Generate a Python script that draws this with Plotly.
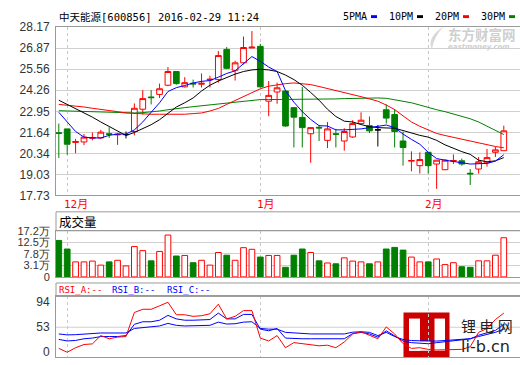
import plotly.graph_objects as go

# ---------------- data ----------------
stock_title = "中天能源[600856] 2016-02-29 11:24"
month_labels = ["12月", "1月", "2月"]
month_index = [1, 24, 44]

price_ticks = [17.73, 19.03, 20.34, 21.64, 22.95, 24.26, 25.56, 26.87, 28.17]
price_tick_text = ["17.73", "19.03", "20.34", "21.64", "22.95", "24.26", "25.56", "26.87", "28.17"]

vol_max = 17.2
vol_tick_text = ["0", "3.1万", "7.8万", "12.5万", "17.2万"]
rsi_tick_vals = [0, 47, 94]
rsi_tick_text = ["0", "53", "94"]

opens = [21.62, 21.86, 21.02, 21.05, 21.28, 21.30, 21.56, 21.49, 21.51, 21.70,
         23.08, 23.84, 24.00, 24.57, 25.42, 24.47, 24.69, 24.63, 24.90, 24.92,
         26.79, 25.50, 25.96, 26.88, 26.98, 23.58, 24.15, 24.21, 23.18, 22.57,
         21.56, 21.96, 21.15, 21.56, 21.11, 21.36, 22.19, 22.06, 21.80, 23.05,
         22.75, 21.11, 19.86, 19.58, 20.41, 19.68, 19.33, 19.86, 19.88, 19.11,
         19.37, 19.76, 20.41, 20.51]
highs = [22.19, 21.86, 21.24, 21.54, 21.64, 21.80, 21.96, 21.60, 21.70, 23.44,
         24.27, 24.27, 24.67, 25.70, 25.45, 25.07, 24.92, 25.30, 25.16, 26.69,
         26.94, 26.09, 27.59, 27.93, 27.14, 24.83, 24.73, 24.25, 23.20, 24.47,
         21.94, 22.10, 22.29, 21.86, 21.90, 22.40, 22.89, 22.63, 22.10, 23.38,
         23.08, 21.70, 20.47, 20.41, 20.43, 19.92, 19.98, 20.28, 20.02, 19.37,
         20.12, 20.62, 20.75, 22.06]
lows = [20.06, 20.26, 20.35, 20.85, 21.15, 21.24, 21.30, 20.87, 21.27, 21.46,
        22.75, 23.38, 23.78, 24.51, 24.60, 24.43, 24.43, 24.43, 24.43, 24.73,
        25.56, 24.86, 25.86, 26.88, 24.43, 22.65, 23.42, 22.00, 20.71, 20.71,
        19.76, 21.11, 20.67, 20.71, 20.51, 21.30, 22.17, 21.60, 20.77, 22.19,
        20.71, 19.58, 19.23, 19.09, 19.09, 18.14, 19.30, 19.68, 19.58, 18.38,
        19.09, 19.52, 20.12, 20.51]
closes = [21.58, 20.91, 21.08, 21.35, 21.32, 21.66, 21.52, 21.53, 21.51, 23.14,
          23.74, 23.80, 24.35, 25.42, 24.67, 24.73, 24.65, 24.69, 24.94, 26.41,
          25.62, 25.96, 26.91, 26.93, 24.47, 23.94, 24.41, 22.04, 22.59, 21.94,
          21.94, 21.92, 21.86, 21.52, 21.70, 22.19, 22.40, 21.74, 21.80, 22.53,
          21.70, 20.71, 19.90, 19.96, 19.58, 19.92, 19.92, 19.90, 19.68, 19.07,
          19.82, 20.08, 20.56, 21.74]

# volume in 万 shares
volume = [13.6, 10.4, 5.6, 5.6, 5.9, 4.4, 5.6, 6.2, 4.1, 11.3,
          9.8, 6.0, 9.5, 15.6, 7.8, 8.0, 5.3, 6.2, 4.4, 9.1,
          8.1, 6.2, 10.9, 10.3, 7.4, 8.0, 8.0, 3.6, 8.1, 10.4,
          9.1, 6.0, 5.2, 4.9, 7.1, 5.9, 5.6, 4.9, 5.6, 10.4,
          11.0, 10.0, 7.4, 5.6, 5.6, 6.7, 4.6, 5.3, 3.8, 3.6,
          6.0, 6.0, 8.1, 14.6]

ma5 = [22.89, 22.29, 21.70, 21.35, 21.30, 21.30, 21.46, 21.54, 21.54, 21.80,
       22.29, 22.89, 23.48, 24.18, 24.42, 24.55, 24.71, 24.81, 24.86, 25.07,
       25.30, 25.46, 25.90, 26.35, 26.05, 25.70, 25.42, 24.24, 23.52, 22.93,
       22.45, 22.06, 22.04, 21.80, 21.80, 21.82, 21.86, 21.94, 22.04, 22.10,
       21.94, 21.54, 21.21, 20.91, 20.41, 20.02, 19.92, 19.86, 19.76, 19.68,
       19.68, 19.72, 19.86, 20.26]
ma10 = [23.64, 23.38, 23.14, 22.89, 22.59, 22.29, 22.00, 21.70, 21.45, 21.64,
        21.86, 22.12, 22.43, 22.81, 23.22, 23.48, 23.78, 24.21, 24.57, 24.83,
        25.07, 25.26, 25.42, 25.52, 25.56, 25.52, 25.42, 25.20, 24.92, 24.57,
        24.12, 23.64, 23.08, 22.63, 22.34, 22.29, 22.13, 22.00, 21.94, 21.92,
        21.90, 21.76, 21.60, 21.46, 21.35, 21.15, 20.87, 20.65, 20.45, 20.28,
        19.92, 19.82, 19.88, 20.08]
ma20 = [23.38, 23.34, 23.28, 23.22, 23.14, 23.08, 23.01, 22.93, 22.85, 22.81,
        22.79, 22.77, 22.77, 22.77, 22.75, 22.77, 22.81, 22.85, 22.97, 23.13,
        23.38, 23.62, 23.88, 24.15, 24.35, 24.51, 24.61, 24.67, 24.71, 24.67,
        24.61, 24.49, 24.37, 24.25, 24.12, 24.00, 23.86, 23.72, 23.58, 23.34,
        23.06, 22.67, 22.29, 22.02, 21.78, 21.58, 21.45, 21.33, 21.23, 21.11,
        20.99, 20.87, 20.77, 20.69]
ma30 = [22.99, 22.97, 22.95, 22.95, 22.93, 22.93, 22.91, 22.89, 22.85, 22.85,
        22.87, 22.91, 22.97, 23.05, 23.13, 23.18, 23.24, 23.30, 23.36, 23.42,
        23.48, 23.54, 23.60, 23.64, 23.68, 23.68, 23.68, 23.68, 23.68, 23.68,
        23.68, 23.70, 23.70, 23.72, 23.74, 23.76, 23.78, 23.78, 23.78, 23.76,
        23.68, 23.60, 23.48, 23.34, 23.18, 23.05, 22.93, 22.79, 22.65, 22.49,
        22.29, 22.04, 21.80, 21.51]

rsi_a = [7.2, 0.0, 8.5, 14.5, 15.7, 31.3, 25.3, 28.4, 29.5, 74.7,
         80.8, 80.8, 87.3, 94.0, 70.5, 70.5, 67.5, 68.7, 72.3, 90.4,
         62.7, 67.5, 78.3, 78.3, 26.6, 21.2, 31.3, 8.5, 18.1, 16.3,
         13.2, 12.1, 13.2, 8.5, 19.3, 34.4, 38.5, 31.3, 25.3, 47.6,
         34.4, 16.3, 7.2, 8.5, 5.4, 4.2, 4.2, 4.2, 5.4, 10.3,
         37.4, 44.7, 61.5, 73.6]
rsi_b = [24.1, 21.2, 22.2, 25.3, 26.6, 29.5, 29.5, 29.5, 31.3, 52.4,
         57.3, 57.3, 60.2, 69.3, 62.7, 60.2, 60.2, 60.2, 61.5, 73.6,
         62.7, 62.7, 71.1, 71.1, 43.4, 40.3, 44.7, 26.6, 25.3, 25.3,
         25.3, 25.3, 25.3, 24.1, 25.3, 35.0, 37.4, 34.4, 28.4, 40.3,
         31.3, 21.0, 18.0, 17.0, 16.0, 18.0, 20.0, 21.0, 23.0, 25.0,
         32.0, 37.0, 41.0, 52.4]
rsi_c = [34.4, 32.6, 33.0, 34.4, 35.0, 36.2, 36.2, 36.2, 36.2, 44.7,
         46.5, 47.6, 49.4, 54.2, 50.6, 49.4, 49.4, 49.4, 50.6, 56.6,
         53.0, 53.6, 56.6, 57.3, 44.7, 43.4, 43.4, 37.4, 36.2, 35.6,
         34.4, 34.4, 34.4, 33.1, 34.4, 37.7, 38.5, 37.4, 31.3, 37.4,
         29.5, 24.0, 22.0, 21.5, 21.0, 21.0, 22.0, 23.0, 24.0, 25.5,
         29.5, 33.1, 37.4, 43.4]

# ---------------- styling ----------------
W, H = 520, 365
ML = 56
RED = "#ff0000"
GREEN = "#008000"
BLUE = "#0000ff"
GRID = "#d0d0d0"
BORDER = "#9a9a9a"
TICKFONT = dict(family="Liberation Sans, Arial, sans-serif", size=12, color="#333333")
VOLFONT = dict(family="Liberation Sans, Arial, sans-serif", size=11, color="#333333")
MONO = "DejaVu Sans Mono, Noto Sans CJK SC, monospace"
CJK = "Noto Sans CJK SC, sans-serif"


def px(x):
    return (x - ML) / (W - ML)


def py(y):
    return 1 - y / H


n = len(closes)
xs = list(range(n))
x_range = [-0.333, 54.93]

idx_col = [i for i in xs if opens[i] != closes[i]]
idx_flat = [i for i in xs if opens[i] == closes[i]]

fig = go.Figure()

# candles
fig.add_trace(go.Candlestick(
    x=idx_col,
    open=[opens[i] for i in idx_col], high=[highs[i] for i in idx_col],
    low=[lows[i] for i in idx_col], close=[closes[i] for i in idx_col],
    increasing=dict(line=dict(color=RED, width=1), fillcolor="white"),
    decreasing=dict(line=dict(color=GREEN, width=1), fillcolor=GREEN),
    whiskerwidth=0, hoverinfo="skip", showlegend=False, xaxis="x", yaxis="y"))
fig.add_trace(go.Candlestick(
    x=idx_flat,
    open=[opens[i] for i in idx_flat], high=[highs[i] for i in idx_flat],
    low=[lows[i] for i in idx_flat], close=[closes[i] for i in idx_flat],
    increasing=dict(line=dict(color="black", width=1), fillcolor="black"),
    decreasing=dict(line=dict(color="black", width=1), fillcolor="black"),
    whiskerwidth=0, hoverinfo="skip", showlegend=False, xaxis="x", yaxis="y"))

# moving averages
for vals, col in [(ma30, GREEN), (ma20, RED), (ma10, "black"), (ma5, BLUE)]:
    fig.add_trace(go.Scatter(x=xs, y=vals, mode="lines", line=dict(color=col, width=1),
                             hoverinfo="skip", showlegend=False, xaxis="x", yaxis="y"))

# volume
up = [i for i in xs if closes[i] >= opens[i]]
dn = [i for i in xs if closes[i] < opens[i]]
fig.add_trace(go.Bar(x=up, y=[volume[i] for i in up], width=0.68,
                     marker=dict(color="white", line=dict(color=RED, width=1)),
                     hoverinfo="skip", showlegend=False, xaxis="x2", yaxis="y2"))
fig.add_trace(go.Bar(x=dn, y=[volume[i] for i in dn], width=0.68,
                     marker=dict(color=GREEN, line=dict(color=GREEN, width=1)),
                     hoverinfo="skip", showlegend=False, xaxis="x2", yaxis="y2"))

# RSI
for vals, col in [(rsi_c, BLUE), (rsi_b, BLUE), (rsi_a, RED)]:
    fig.add_trace(go.Scatter(x=xs, y=vals, mode="lines", line=dict(color=col, width=1),
                             hoverinfo="skip", showlegend=False, xaxis="x3", yaxis="y3"))

xcommon = dict(range=x_range, showticklabels=False, ticks="", tickvals=month_index,
               showgrid=True, gridcolor="#c8c8c8", griddash="3px,3px", gridwidth=1,
               zeroline=False, showline=True, mirror=True, linecolor=BORDER, linewidth=1,
               fixedrange=True)

vol_ticks = [vol_max * k / 4 for k in range(5)]

fig.update_layout(
    width=W, height=H,
    margin=dict(l=ML, r=0, t=0, b=0, pad=0),
    paper_bgcolor="white", plot_bgcolor="rgba(0,0,0,0)",
    boxgap=0.32, boxgroupgap=0, barmode="overlay",
    showlegend=False,
    xaxis=dict(domain=[0, 1], anchor="y", rangeslider=dict(visible=False), **xcommon),
    xaxis2=dict(domain=[0, 1], anchor="y2", **xcommon),
    xaxis3=dict(domain=[0, 1], anchor="y3", **xcommon),
    yaxis=dict(domain=[py(196), py(21)], range=[price_ticks[0], price_ticks[-1]],
               tickvals=price_ticks, ticktext=price_tick_text, tickfont=TICKFONT,
               showgrid=True, gridcolor=GRID, gridwidth=1, zeroline=False,
               showline=True, linecolor=BORDER, ticks="", ticklabelstandoff=3),
    yaxis2=dict(domain=[py(280.7), py(232.7)], range=[0, vol_max],
                tickvals=vol_ticks, ticktext=vol_tick_text, tickfont=VOLFONT,
                showgrid=True, gridcolor=GRID, gridwidth=1, zeroline=False,
                showline=True, linecolor=BORDER, ticks="", ticklabelstandoff=3),
    yaxis3=dict(domain=[py(364), py(301)], range=[-9.04, 104.9],
                tickvals=rsi_tick_vals, ticktext=rsi_tick_text, tickfont=TICKFONT,
                showgrid=False, zeroline=False,
                showline=True, linecolor=BORDER, ticks="", ticklabelstandoff=3),
)

shapes = []
# title boxes for volume and RSI panels
for y0, y1 in [(213, 232.7), (287, 301)]:
    shapes.append(dict(type="rect", xref="paper", yref="paper", x0=0, x1=1.01,
                       y0=py(y1), y1=py(y0), line=dict(color=BORDER, width=1), layer="above"))
# RSI mid line
shapes.append(dict(type="line", xref="paper", yref="y3", x0=0, x1=1, y0=rsi_tick_vals[1],
                   y1=rsi_tick_vals[1], line=dict(color=GRID, width=1), layer="below"))
# legend colour dashes
for xl, col in [(371, BLUE), (417, "black"), (463, RED), (509, GREEN)]:
    shapes.append(dict(type="rect", xref="paper", yref="paper", x0=px(xl), x1=px(xl + 6),
                       y0=py(11.5), y1=py(8.5), fillcolor=col, line=dict(width=0)))
# li-b.cn logo
shapes.append(dict(type="rect", xref="paper", yref="paper", x0=px(403.5), x1=px(449.5),
                   y0=py(365), y1=py(317.7), fillcolor="#cc0000", line=dict(width=0),
                   layer="below"))
for (a, b, c, d) in [(409, 420, 324, 357.5), (409, 430.5, 347.5, 357.5), (434.5, 445, 324, 357.5)]:
    shapes.append(dict(type="rect", xref="paper", yref="paper", x0=px(a), x1=px(b),
                       y0=py(d), y1=py(c), fillcolor="white", line=dict(width=0),
                       layer="below"))
# eastmoney swoosh (watermark)
sx0, sy0 = 428, 20
path = "M {} {} Q {} {} {} {} Q {} {} {} {} Z".format(
    px(sx0 + 16), py(sy0), px(sx0 - 2), py(sy0 + 12), px(sx0 + 4), py(sy0 + 24),
    px(sx0 + 6), py(sy0 + 10), px(sx0 + 16), py(sy0))
shapes.append(dict(type="path", path=path, xref="paper", yref="paper",
                   fillcolor="#d8d8d8", line=dict(width=0)))
fig.update_layout(shapes=shapes)

ann = []
ann.append(dict(text=stock_title, xref="paper", yref="paper", x=px(57), y=py(10),
                xanchor="left", yanchor="middle", showarrow=False,
                font=dict(family=MONO, size=10.5, color="black")))
for label, xl in [("5PMA", 340.5), ("10PM", 386.5), ("20PM", 432.5), ("30PM", 479)]:
    ann.append(dict(text=label, xref="paper", yref="paper", x=px(xl), y=py(10),
                    xanchor="left", yanchor="middle", showarrow=False,
                    font=dict(family=MONO, size=10, color="black")))
for lab, xi in zip(month_labels, month_index):
    ann.append(dict(text=lab, xref="x", yref="paper", x=xi, y=py(205), xshift=-5,
                    xanchor="left", yanchor="middle", showarrow=False,
                    font=dict(family=MONO, size=11, color=RED)))
ann.append(dict(text="成交量", xref="paper", yref="paper", x=px(57), y=py(223),
                xanchor="left", yanchor="middle", showarrow=False,
                font=dict(family=CJK, size=12.5, color="black")))
for label, col, xl in [("RSI_A:--", RED, 57), ("RSI_B:--", BLUE, 110), ("RSI_C:--", BLUE, 165)]:
    ann.append(dict(text=label, xref="paper", yref="paper", x=px(xl), y=py(294),
                    xanchor="left", yanchor="middle", showarrow=False,
                    font=dict(family=MONO, size=9, color=col)))
# watermarks
ann.append(dict(text="<b>东方财富网</b>", xref="paper", yref="paper", x=px(446), y=py(28),
                xanchor="left", yanchor="middle", showarrow=False,
                font=dict(family=CJK, size=13.5, color="#cfcfcf")))
ann.append(dict(text="<b><i>eastmoney.com</i></b>", xref="paper", yref="paper", x=px(446),
                y=py(41.5), xanchor="left", yanchor="middle", showarrow=False,
                font=dict(family="DejaVu Sans, sans-serif", size=7, color="#cfcfcf")))
ann.append(dict(text="锂 电 网", xref="paper", yref="paper", x=px(486.5), y=py(331.5),
                xanchor="center", yanchor="middle", showarrow=False,
                font=dict(family=CJK, size=15, color="#222222")))
ann.append(dict(text="li-b.cn", xref="paper", yref="paper", x=px(485), y=py(353),
                xanchor="center", yanchor="middle", showarrow=False,
                font=dict(family="DejaVu Sans, sans-serif", size=16, color="#222222")))
fig.update_layout(annotations=ann)

fig.write_html("out.html")
